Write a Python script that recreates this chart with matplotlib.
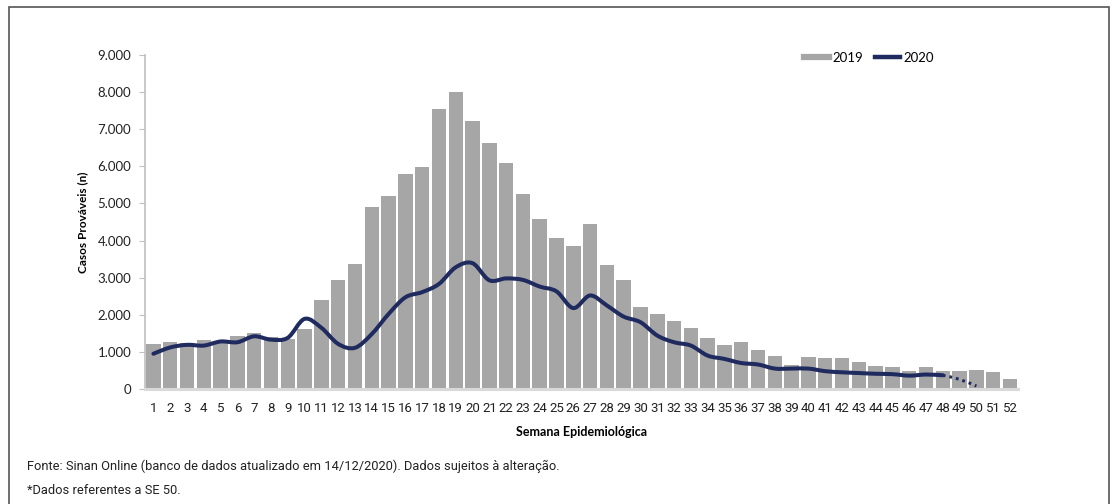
"""
Casos prováveis por semana epidemiológica, 2019 x 2020
"""

import numpy as np
import matplotlib
matplotlib.use("Agg")
import matplotlib.pyplot as plt
from matplotlib.path import Path
from matplotlib.patches import PathPatch, Rectangle
from matplotlib.lines import Line2D
from matplotlib.ticker import FuncFormatter

# dados
semanas = list(range(1, 53))
casos_2019 = [1220, 1260, 1250, 1330, 1280, 1440, 1500, 1390, 1350, 1620,
              2400, 2950, 3380, 4900, 5190, 5780, 5990, 7540, 8000, 7230,
              6620, 6090, 5250, 4570, 4080, 3840, 4440, 3340, 2950, 2210,
              2030, 1820, 1650, 1370, 1190, 1260, 1040, 900, 660, 870,
              830, 830, 730, 630, 590, 490, 590, 490, 490, 520,
              450, 270]
casos_2020 = [950, 1120, 1190, 1170, 1280, 1260, 1420, 1330, 1380, 1890,
              1650, 1215, 1110, 1480, 2020, 2470, 2610, 2830, 3280, 3390,
              2930, 2980, 2940, 2760, 2630, 2180, 2520, 2250, 1950, 1800,
              1440, 1260, 1170, 900, 810, 700, 660, 550, 550, 550,
              480, 450, 430, 410, 400, 360, 390, 370, 260, 80]
semana_fim_solida = 48   # a partir daqui a linha é pontilhada

cor_barra = "#A6A6A6"
cor_linha = "#1F2A5E"


def caminho_suave(x, y):
    """Curva suavizada (estilo Excel) passando pelos pontos"""
    pts = np.column_stack([x, y]).astype(float)
    verts = [pts[0]]
    codes = [Path.MOVETO]
    n = len(pts)
    for i in range(n - 1):
        p0 = pts[i - 1] if i > 0 else pts[i]
        p1 = pts[i]
        p2 = pts[i + 1]
        p3 = pts[i + 2] if i + 2 < n else pts[i + 1]
        c1 = p1 + (p2 - p0) / 6.0
        c2 = p2 - (p3 - p1) / 6.0
        verts += [c1, c2, p2]
        codes += [Path.CURVE4] * 3
    return Path(verts, codes)


fig = plt.figure(figsize=(11.12, 5.04), dpi=100)
ax = fig.add_axes([145 / 1112, 1 - 389 / 504, (1018.4 - 145) / 1112, (389 - 55) / 504])

fonte_base = ["Lato", "DejaVu Sans"]
fonte_estreita = ["Liberation Sans Narrow", "Roboto", "DejaVu Sans"]

# barras 2019
ax.bar(semanas, casos_2019, width=0.86, color=cor_barra, zorder=2)

# linha 2020 (parte sólida e parte pontilhada)
k = semana_fim_solida
sem_2020 = semanas[:len(casos_2020)]
ax.add_patch(PathPatch(caminho_suave(sem_2020[:k], casos_2020[:k]),
                       facecolor="none", edgecolor=cor_linha, lw=2.9,
                       capstyle="round", joinstyle="round", zorder=3))
ax.add_patch(PathPatch(caminho_suave(sem_2020[k - 1:], casos_2020[k - 1:]),
                       facecolor="none", edgecolor=cor_linha, lw=2.2,
                       linestyle=(0, (0.9, 1.3)), zorder=3))

ax.set_xlim(0.5, 52.5)
ax.set_ylim(0, 9000)
ax.set_yticks(np.arange(0, 9001, 1000))
ax.yaxis.set_major_formatter(FuncFormatter(lambda v, p: f"{int(v):,}".replace(",", ".")))
ax.set_xticks(semanas)
ax.set_xticklabels([str(s) for s in semanas], family=fonte_estreita, fontsize=9.5)
for lbl in ax.get_yticklabels():
    lbl.set_family(fonte_base)
    lbl.set_fontsize(9.5)

ax.tick_params(axis="y", length=4, color="#BFBFBF", pad=6, labelcolor="#222222")
ax.tick_params(axis="x", length=0, pad=9, labelcolor="#222222")

for s in ["top", "right"]:
    ax.spines[s].set_visible(False)
ax.spines["left"].set_color("#BFBFBF")
ax.spines["left"].set_linewidth(1.2)
ax.spines["bottom"].set_color("#D9D9D9")
ax.spines["bottom"].set_linewidth(2.2)

# rótulos dos eixos
fig.text(83 / 1112, 1 - 222 / 504, "Casos Prováveis (n)", rotation=90,
         ha="center", va="center", fontsize=8.5, fontweight="bold", family=fonte_base)
fig.text(582 / 1112, 1 - 432 / 504, "Semana Epidemiológica",
         ha="center", va="center", fontsize=9, fontweight="bold", family=fonte_base)

# legenda
handles = [Line2D([], [], color=cor_barra, lw=4.5),
           Line2D([], [], color=cor_linha, lw=3.2)]
fig.legend(handles, ["2019", "2020"], loc="center left",
           bbox_to_anchor=(792 / 1112, 1 - 58 / 504), ncol=2, frameon=False,
           handlelength=1.9, handletextpad=0.25, columnspacing=0.9,
           prop={"family": fonte_base, "size": 9.5})

# rodapé
fig.text(27 / 1112, 1 - 466 / 504,
         "Fonte: Sinan Online (banco de dados atualizado em 14/12/2020). Dados sujeitos à alteração.",
         ha="left", va="center", fontsize=9.3, family=fonte_estreita, color="#222222")
fig.text(27 / 1112, 1 - 490 / 504, "*Dados referentes a SE 50.",
         ha="left", va="center", fontsize=9.3, family=fonte_estreita, color="#222222")

# moldura
fig.patches.append(Rectangle((9 / 1112, -0.05), (1109 - 9) / 1112, 1.05 - 7 / 504,
                             transform=fig.transFigure, fill=False,
                             edgecolor="#555555", lw=1.2))

fig.savefig("out.png", dpi=100)
plt.close(fig)
